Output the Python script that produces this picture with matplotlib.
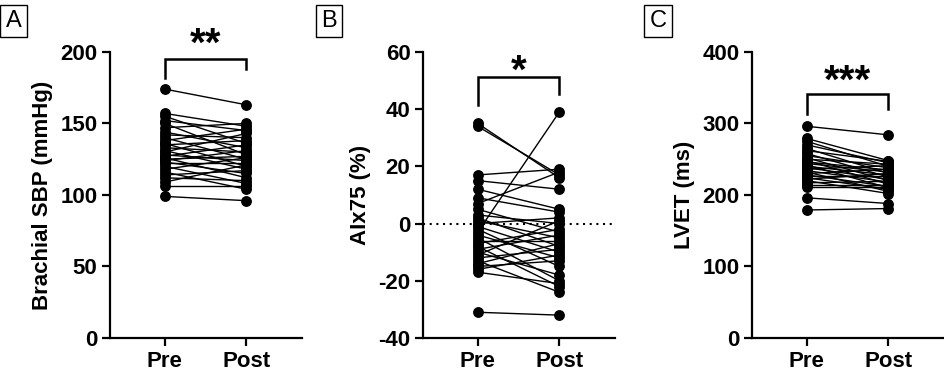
import matplotlib
matplotlib.use("Agg")
import matplotlib.pyplot as plt

plt.rcParams["font.family"] = ["Liberation Sans", "DejaVu Sans"]
plt.rcParams["axes.unicode_minus"] = False

# --- data ---
conditions = ["Pre", "Post"]

sbp_pre = [174, 157, 155, 152, 150, 147, 144, 142, 140, 138, 136, 135, 133, 131, 130,
           128, 127, 126, 125, 124, 123, 122, 120, 118, 116, 114, 112, 109, 106, 99]
sbp_post = [163, 148, 136, 145, 128, 150, 133, 140, 125, 146, 120, 138, 130, 118, 143,
            124, 135, 112, 127, 131, 115, 122, 108, 126, 104, 117, 110, 121, 106, 96]

aix_pre = [35, 34, 17, 15, 12, 9, 7, 5, 3, 2, 1, 0, -1, -2, -3,
           -4, -5, -6, -7, -8, -9, -10, -11, -12, -13, -14, -15, -16, -17, -31]
aix_post = [16, 17, 19, 12, 5, 4, 18, -3, 0, -8, -5, 2, -10, -15, 39,
            -12, -20, -6, -2, -22, -4, -18, 1, -9, -24, -7, -13, -11, -21, -32]

lvet_pre = [296, 279, 275, 270, 265, 262, 258, 255, 252, 250, 248, 246, 244, 242, 240,
            238, 236, 234, 232, 230, 228, 226, 224, 222, 220, 217, 214, 211, 196, 179]
lvet_post = [284, 248, 240, 245, 230, 247, 225, 238, 220, 243, 215, 235, 232, 210, 228,
             222, 241, 218, 205, 236, 212, 226, 208, 230, 202, 219, 214, 211, 188, 181]

panels = [
    # letter, pre, post, ylabel, ylim, yticks, stars, bracket (top, left leg, right leg, star y)
    ("A", sbp_pre, sbp_post, "Brachial SBP (mmHg)", (0, 200), [0, 50, 100, 150, 200], "**", (195, 182, 188, 192)),
    ("B", aix_pre, aix_post, "AIx75 (%)", (-40, 60), [-40, -20, 0, 20, 40, 60], "*", (51.3, 41.5, 45.3, 46.5)),
    ("C", lvet_pre, lvet_post, "LVET (ms)", (0, 400), [0, 100, 200, 300, 400], "***", (341, 313, 320, 331)),
]

fig = plt.figure(figsize=(9.44, 3.76), dpi=100)
lefts = [0.1165, 0.448, 0.7966]
label_x = [0.006, 0.34, 0.688]

for (letter, pre, post, ylab, ylim, yticks, stars, br), left, lx in zip(panels, lefts, label_x):
    ax = fig.add_axes([left, 0.101, 0.2034, 0.761])
    for a, b in zip(pre, post):
        ax.plot([0, 1], [a, b], color="black", lw=1.0, marker="o", ms=6.8, zorder=3,
                clip_on=False)
    if letter == "B":
        ax.axhline(0, color="black", lw=1.5, ls=(0, (1, 2.2)), zorder=1)
    ax.set_xlim(-0.67, 1.68)
    ax.set_ylim(*ylim)
    ax.set_yticks(yticks)
    ax.set_xticks([0, 1])
    ax.set_xticklabels(conditions)
    for s in ["top", "right"]:
        ax.spines[s].set_visible(False)
    for s in ["left", "bottom"]:
        ax.spines[s].set_linewidth(1.6)
    ax.tick_params(width=1.6, length=6, labelsize=16, pad=3)
    ax.tick_params(axis="x", pad=3)
    for t in ax.get_xticklabels() + ax.get_yticklabels():
        t.set_fontweight("bold")
    ax.set_ylabel(ylab, fontsize=16, fontweight="bold", labelpad=5)

    top, l_leg, r_leg, sy = br
    ax.plot([0, 0, 1, 1], [l_leg, top, top, r_leg], color="black", lw=1.8,
            clip_on=False, solid_joinstyle="miter")
    ax.text(0.5, sy, stars, ha="center", va="bottom", fontsize=29, fontweight="bold")

    fig.text(lx, 0.944, letter, fontsize=17, ha="left", va="center",
             bbox=dict(boxstyle="square,pad=0.22", fc="white", ec="black", lw=1))

fig.savefig("out.png", dpi=100)
